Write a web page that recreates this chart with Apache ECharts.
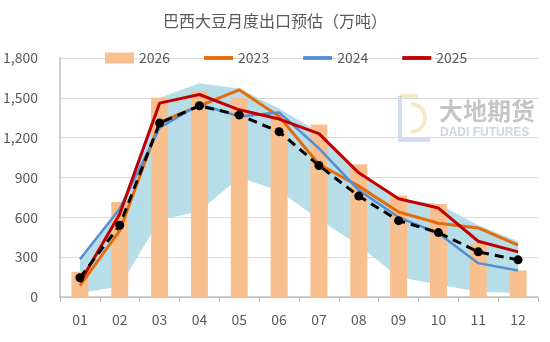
<!DOCTYPE html>
<html><head><meta charset="utf-8">
<script src="https://cdn.jsdelivr.net/npm/echarts@6/dist/echarts.min.js"></script>
<style>html,body{margin:0;padding:0;background:#fff}#c{width:550px;height:342px}</style>
</head><body><div id="c"></div>
<script>
const months = ['01','02','03','04','05','06','07','08','09','10','11','12'];
const y2026 = [190, 715, 1500, 1550, 1500, 1350, 1300, 1000, 765, 700, 405, 200];
const y2023 = [85, 500, 1315, 1440, 1560, 1360, 1000, 835, 640, 555, 520, 390];
const y2024 = [285, 665, 1275, 1450, 1360, 1390, 1120, 805, 600, 480, 255, 200];
const y2025 = [110, 625, 1460, 1525, 1410, 1340, 1230, 935, 740, 670, 420, 340];
const avgLine = [145, 540, 1310, 1440, 1370, 1245, 990, 760, 575, 485, 340, 280];
const bandLow = [30, 80, 580, 645, 900, 800, 585, 390, 150, 95, 40, 30];
const bandHigh = [285, 665, 1500, 1610, 1570, 1420, 1240, 940, 740, 700, 540, 420];
const yTicks = [0, 300, 600, 900, 1200, 1500, 1800];

const bandDiff = bandHigh.map((v, i) => v - bandLow[i]);
const font = "'Noto Sans CJK SC', 'Noto Sans', sans-serif";
const lineIcon = 'path://M0,0H30V4H0Z';
const chart = echarts.init(document.getElementById('c'), null, {renderer: 'canvas'});
chart.setOption({
  animation: false,
  backgroundColor: '#fff',
  title: {
    text: '巴西大豆月度出口预估（万吨）', left: 'center', top: 8,
    textStyle: {fontFamily: font, fontSize: 16, fontWeight: 'normal', color: '#595959'}
  },
  legend: {
    data: [
      {name: '2026', icon: 'rect'},
      {name: '2023', icon: lineIcon},
      {name: '2024', icon: lineIcon},
      {name: '2025', icon: lineIcon}
    ],
    top: 51, left: 105, padding: 0, itemGap: 34, itemWidth: 29, itemHeight: 11,
    textStyle: {fontFamily: font, fontSize: 14, color: '#595959'}
  },
  grid: {left: 60, right: 12, top: 58, bottom: 45},
  xAxis: {
    type: 'category', data: months, boundaryGap: true,
    axisLine: {lineStyle: {color: '#bfbfbf', width: 1.5}},
    axisTick: {show: true, length: 5, lineStyle: {color: '#bfbfbf'}},
    axisLabel: {fontFamily: font, fontSize: 14, color: '#595959', margin: 16}
  },
  yAxis: {
    type: 'value', min: yTicks[0], max: yTicks[yTicks.length - 1], interval: 300,
    axisLine: {show: true, lineStyle: {color: '#bfbfbf', width: 1.5}},
    axisTick: {show: false},
    splitLine: {lineStyle: {color: '#d9d9d9'}},
    axisLabel: {fontFamily: font, fontSize: 14, color: '#595959', margin: 22,
      formatter: v => v.toLocaleString('en-US')}
  },
  graphic: [
    {type: 'polyline', z: 0, shape: {points: [[400,96],[400,140],[430,140]]},
      style: {fill: 'none', stroke: 'rgba(120,160,210,0.35)', lineWidth: 4}},
    {type: 'polyline', z: 0, shape: {points: [[400,96],[418,96]]},
      style: {fill: 'none', stroke: 'rgba(230,200,110,0.4)', lineWidth: 4}},
    {type: 'arc', z: 0, shape: {cx: 411, cy: 118, r: 14, startAngle: -Math.PI / 2, endAngle: Math.PI / 2},
      style: {fill: 'none', stroke: 'rgba(230,200,110,0.4)', lineWidth: 4}},
    {type: 'text', left: 439, top: 99, z: 0,
      style: {text: '大地期货', font: 'bold 24px "Noto Sans CJK SC"', fill: 'rgba(150,150,150,0.55)'}},
    {type: 'text', left: 440, top: 127, z: 0,
      style: {text: 'DADI FUTURES', font: 'bold 12px "Liberation Sans"', fill: 'rgba(170,185,205,0.6)'}}
  ],
  series: [
    {name: 'low', type: 'line', data: bandLow, stack: 'band', symbol: 'none',
      lineStyle: {opacity: 0}, areaStyle: {opacity: 0}, silent: true, z: 1},
    {name: 'range', type: 'line', data: bandDiff, stack: 'band', symbol: 'none',
      lineStyle: {opacity: 0}, areaStyle: {color: '#b7dde8', opacity: 1}, silent: true, z: 1},
    {name: '2026', type: 'bar', data: y2026, barWidth: 17, itemStyle: {color: '#f9c08f'}, z: 2},
    {name: '2023', type: 'line', data: y2023, symbol: 'none', itemStyle: {color: '#e46c0a'},
      lineStyle: {color: '#e46c0a', width: 3}, z: 3},
    {name: '2024', type: 'line', data: y2024, symbol: 'none', itemStyle: {color: '#558ed5'},
      lineStyle: {color: '#558ed5', width: 2.5}, z: 4},
    {name: '2025', type: 'line', data: y2025, symbol: 'none', itemStyle: {color: '#c00000'},
      lineStyle: {color: '#c00000', width: 3}, z: 5},
    {name: 'avg', type: 'line', data: avgLine, symbol: 'circle', symbolSize: 9,
      itemStyle: {color: '#000'}, lineStyle: {color: '#000', width: 3, type: [9, 6]}, z: 6}
  ]
});
</script></body></html>
